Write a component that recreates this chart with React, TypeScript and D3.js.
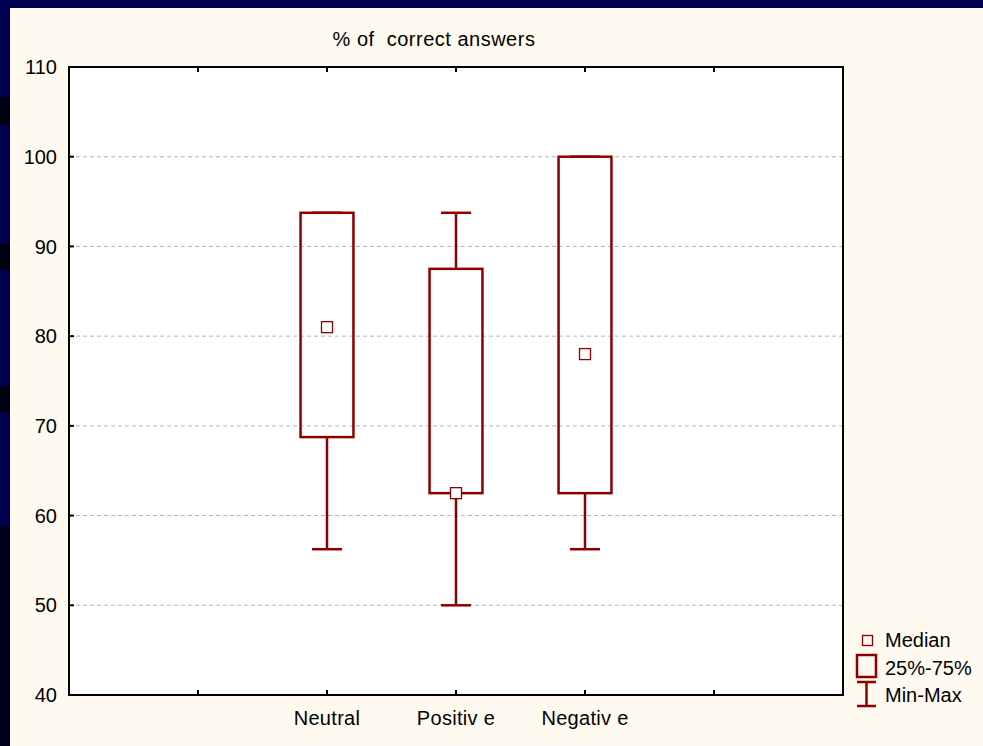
import React from 'react';
import * as d3 from 'd3';

const categories = ['Neutral', 'Positiv e', 'Negativ e'];
const minValues = [56.25, 50, 56.25];
const q1Values = [68.75, 62.5, 62.5];
const medianValues = [81, 62.5, 78];
const q3Values = [93.75, 87.5, 100];
const maxValues = [93.75, 93.75, 100];
const yTicks = [40, 50, 60, 70, 80, 90, 100, 110];
const gridTicks = [50, 60, 70, 80, 90, 100];
const xTickSlots = [1, 2, 3, 4, 5];
const legendLabels = ['Median', '25%-75%', 'Min-Max'];

const W = 983;
const H = 746;
const RED = '#8b0000';
const FONT = '"Liberation Sans", Arial, sans-serif';

export default function App() {
  const margin = { top: 67, right: 140, bottom: 51, left: 69 };
  const x = d3.scaleLinear().domain([0, 6]).range([margin.left, W - margin.right]);
  const y = d3.scaleLinear().domain([40, 110]).range([H - margin.bottom, margin.top]);
  const step = x(1) - x(0);
  const boxW = step * 0.41;
  const capW = 30;

  return (
    <svg width={W} height={H} style={{ position: 'absolute', left: 0, top: 0 }} fontFamily={FONT}>
      {/* slide background */}
      <rect x={0} y={0} width={W} height={H} fill="#000050" />
      <rect x={0} y={97} width={10} height={28} fill="#000012" />
      <rect x={0} y={244} width={10} height={26} fill="#000012" />
      <rect x={0} y={386} width={10} height={26} fill="#000012" />
      <rect x={0} y={526} width={10} height={220} fill="#00001c" />
      <rect x={10} y={8} width={W - 10} height={H - 8} fill="#fffaf0" />

      {/* plot area */}
      <rect x={x(0)} y={y(110)} width={x(6) - x(0)} height={y(40) - y(110)} fill="#ffffff" />
      {gridTicks.map(t => (
        <line key={t} x1={x(0)} x2={x(6)} y1={y(t)} y2={y(t)} stroke="#b4b4b4" strokeWidth={1} strokeDasharray="4,3" />
      ))}

      {/* boxes */}
      {categories.map((c, i) => {
        const cx = x(i + 2);
        return (
          <g key={c} stroke={RED} fill="none">
            <line x1={cx} x2={cx} y1={y(q3Values[i])} y2={y(maxValues[i])} strokeWidth={2.5} />
            <line x1={cx} x2={cx} y1={y(q1Values[i])} y2={y(minValues[i])} strokeWidth={2.5} />
            <line x1={cx - capW / 2} x2={cx + capW / 2} y1={y(maxValues[i])} y2={y(maxValues[i])} strokeWidth={2.5} />
            <line x1={cx - capW / 2} x2={cx + capW / 2} y1={y(minValues[i])} y2={y(minValues[i])} strokeWidth={2.5} />
            <rect x={cx - boxW / 2} y={y(q3Values[i])} width={boxW} height={y(q1Values[i]) - y(q3Values[i])} strokeWidth={2.5} />
            <rect x={cx - 5.5} y={y(medianValues[i]) - 5.5} width={11} height={11} fill="#ffffff" strokeWidth={1.3} />
          </g>
        );
      })}

      {/* frame and ticks */}
      <rect x={x(0)} y={y(110)} width={x(6) - x(0)} height={y(40) - y(110)} fill="none" stroke="#000" strokeWidth={2} />
      {yTicks.map(t => (
        <g key={t}>
          <line x1={x(0)} x2={x(0) + 5} y1={y(t)} y2={y(t)} stroke="#000" strokeWidth={2} />
          <text x={x(0) - 12} y={y(t)} dy="0.36em" textAnchor="end" fontSize={20} fill="#000">{t}</text>
        </g>
      ))}
      {xTickSlots.map(s => (
        <g key={s}>
          <line x1={x(s)} x2={x(s)} y1={y(40)} y2={y(40) - 5} stroke="#000" strokeWidth={2} />
          <line x1={x(s)} x2={x(s)} y1={y(110)} y2={y(110) + 5} stroke="#000" strokeWidth={2} />
        </g>
      ))}
      {categories.map((c, i) => (
        <text key={c} x={x(i + 2)} y={725} textAnchor="middle" fontSize={20} fill="#000" letterSpacing={0.3} style={{ whiteSpace: 'pre' }}>{c}</text>
      ))}

      {/* title */}
      <text x={434} y={46} textAnchor="middle" fontSize={20} fill="#000" letterSpacing={0.5} style={{ whiteSpace: 'pre' }}>{'% of  correct answers'}</text>

      {/* legend */}
      <g stroke={RED} fill="none">
        <rect x={862.5} y={635.5} width={10} height={10} strokeWidth={1.3} />
        <rect x={857} y={655} width={19} height={22} strokeWidth={2.5} />
        <line x1={866.5} x2={866.5} y1={682} y2={706} strokeWidth={2.5} />
        <line x1={857} x2={876} y1={682} y2={682} strokeWidth={2.5} />
        <line x1={857} x2={876} y1={706} y2={706} strokeWidth={2.5} />
      </g>
      {legendLabels.map((l, i) => (
        <text key={l} x={885} y={647 + i * 27.5} fontSize={20} fill="#000">{l}</text>
      ))}
    </svg>
  );
}
